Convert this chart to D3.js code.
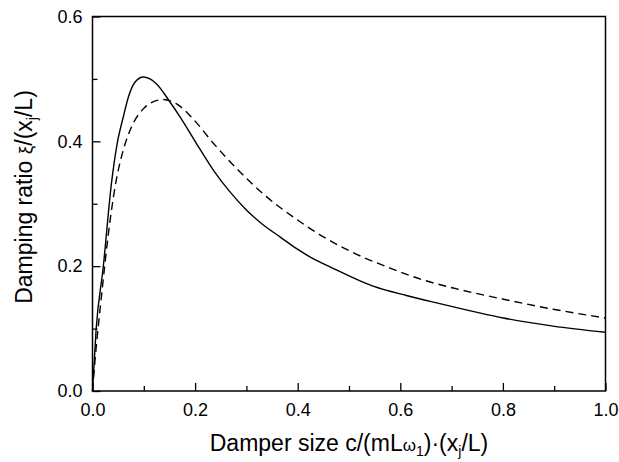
<!DOCTYPE html>
<html>
<head>
<meta charset="utf-8">
<script src="https://cdn.jsdelivr.net/npm/d3@7"></script>
<style>
    body { margin: 0; background: #fff; }
    svg { display: block; font-family: "Liberation Sans", Arial, Helvetica, sans-serif; }
</style>
</head>
<body>
<div id="chart"></div>
<script>
// Solid curve
var SOLID_X = [0, 0.007, 0.021, 0.037, 0.048, 0.060, 0.070, 0.083, 0.099, 0.112, 0.125, 0.151, 0.170, 0.203, 0.2355, 0.268, 0.300, 0.333, 0.3655, 0.398, 0.430, 0.463, 0.547, 0.612, 0.677, 0.750, 0.801, 0.898, 1.0];
var SOLID_Y = [0, 0.098, 0.199, 0.333, 0.396, 0.439, 0.471, 0.495, 0.503, 0.500, 0.492, 0.463, 0.440, 0.396, 0.354, 0.319, 0.290, 0.266, 0.247, 0.228, 0.212, 0.199, 0.168, 0.153, 0.140, 0.126, 0.117, 0.104, 0.094];

// Dashed curve
var DASH_X = [0, 0.005, 0.018, 0.031, 0.044, 0.060, 0.076, 0.099, 0.120, 0.138, 0.164, 0.196, 0.2355, 0.2875, 0.3395, 0.391, 0.450, 0.515, 0.580, 0.648, 0.703, 0.801, 0.898, 1.0];
var DASH_Y = [0, 0.050, 0.156, 0.252, 0.327, 0.386, 0.423, 0.452, 0.464, 0.467, 0.460, 0.436, 0.397, 0.351, 0.311, 0.279, 0.247, 0.219, 0.197, 0.177, 0.165, 0.147, 0.131, 0.117];

var X_TICKS = [0, 0.2, 0.4, 0.6, 0.8, 1.0];
var X_MINOR = [0.1, 0.3, 0.5, 0.7, 0.9];
var Y_TICKS = [0, 0.2, 0.4, 0.6];
var Y_MINOR = [0.1, 0.3, 0.5];

var W = 619, H = 462;
var margin = {left: 92.5, right: 13.5, top: 16.5, bottom: 71};

var svg = d3.select("#chart").append("svg")
    .attr("width", W)
    .attr("height", H);

var x = d3.scaleLinear().domain([0, 1]).range([margin.left, W - margin.right]);
var y = d3.scaleLinear().domain([0, 0.6]).range([H - margin.bottom, margin.top]);

// curves
var line = d3.line()
    .curve(d3.curveMonotoneX)
    .x(function (d) { return x(d[0]); })
    .y(function (d) { return y(d[1]); });

svg.append("path")
    .datum(d3.zip(SOLID_X, SOLID_Y))
    .attr("d", line)
    .attr("fill", "none")
    .attr("stroke", "#000")
    .attr("stroke-width", 1.4);

svg.append("path")
    .datum(d3.zip(DASH_X, DASH_Y))
    .attr("d", line)
    .attr("fill", "none")
    .attr("stroke", "#000")
    .attr("stroke-width", 1.4)
    .attr("stroke-dasharray", "8,5");

// axes, ticks pointing inward
function tickFmt(d) { return d3.format(".1f")(d); }

svg.append("g")
    .attr("transform", "translate(0," + y(0) + ")")
    .call(d3.axisBottom(x).tickValues(X_TICKS).tickFormat(tickFmt).tickSizeInner(-8).tickSizeOuter(0).tickPadding(12));
svg.append("g")
    .attr("transform", "translate(0," + y(0) + ")")
    .call(d3.axisBottom(x).tickValues(X_MINOR).tickFormat("").tickSizeInner(-5).tickSizeOuter(0));

svg.append("g")
    .attr("transform", "translate(" + x(0) + ",0)")
    .call(d3.axisLeft(y).tickValues(Y_TICKS).tickFormat(tickFmt).tickSizeInner(-8).tickSizeOuter(0).tickPadding(10));
svg.append("g")
    .attr("transform", "translate(" + x(0) + ",0)")
    .call(d3.axisLeft(y).tickValues(Y_MINOR).tickFormat("").tickSizeInner(-5).tickSizeOuter(0));

svg.selectAll(".domain").remove();
svg.selectAll(".tick line").attr("stroke", "#000").attr("stroke-width", 1.3);
svg.selectAll(".tick text")
    .attr("fill", "#000")
    .style("font-size", "18px")
    .style("font-family", "\"Liberation Sans\", Arial, sans-serif");

// frame
svg.append("rect")
    .attr("x", x(0))
    .attr("y", y(0.6))
    .attr("width", x(1) - x(0))
    .attr("height", y(0) - y(0.6))
    .attr("fill", "none")
    .attr("stroke", "#000")
    .attr("stroke-width", 1.5);

// axis titles
var xt = svg.append("text")
    .attr("x", (x(0) + x(1)) / 2)
    .attr("y", 451)
    .attr("text-anchor", "middle")
    .style("font-size", "23px");
xt.append("tspan").text("Damper size c/(mL");
xt.append("tspan").text("ω").style("font-size", "17px");
xt.append("tspan").text("1").attr("dy", 5).style("font-size", "14px");
xt.append("tspan").text(")·(x").attr("dy", -5);
xt.append("tspan").text("j").attr("dy", 5).style("font-size", "14px");
xt.append("tspan").text("/L)").attr("dy", -5);

var yt = svg.append("text")
    .attr("transform", "translate(32,197) rotate(-90)")
    .attr("text-anchor", "middle")
    .style("font-size", "23px");
yt.append("tspan").text("Damping ratio ");
yt.append("tspan").text("ξ").style("font-size", "19px");
yt.append("tspan").text("/(x");
yt.append("tspan").text("j").attr("dy", 5).style("font-size", "14px");
yt.append("tspan").text("/L)").attr("dy", -5);
</script>
</body>
</html>
